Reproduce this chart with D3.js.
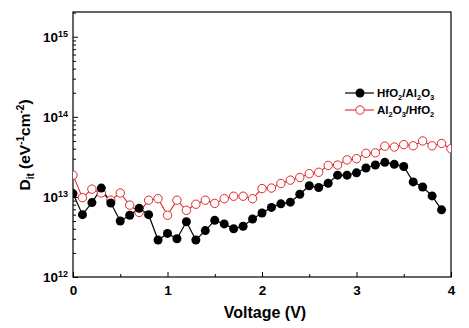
<!DOCTYPE html>
<html>
<head>
<meta charset="utf-8">
<script src="https://cdnjs.cloudflare.com/ajax/libs/d3/7.8.5/d3.min.js"></script>
<style>
  body { margin: 0; background: #fff; }
  text { font-family: "Liberation Sans", Arial, sans-serif; font-weight: bold; }
</style>
</head>
<body>
<div id="chart"></div>
<script>
// Data
var voltA = [0,0.1,0.2,0.3,0.4,0.5,0.6,0.7,0.8,0.9,1.0,1.1,1.2,1.3,1.4,1.5,1.6,1.7,1.8,1.9,
  2.0,2.1,2.2,2.3,2.4,2.5,2.6,2.7,2.8,2.9,3.0,3.1,3.2,3.3,3.4,3.5,3.6,3.7,3.8,3.9];
var ditHfAl = [1.10e13,6.0e12,8.5e12,1.29e13,8.4e12,5.0e12,5.9e12,7.2e12,6.0e12,2.9e12,
  3.5e12,3.0e12,4.9e12,2.9e12,3.8e12,5.1e12,4.6e12,4.0e12,4.3e12,5.3e12,
  6.3e12,7.4e12,8.2e12,8.6e12,1.08e13,1.38e13,1.31e13,1.48e13,1.87e13,1.87e13,
  2.0e13,2.3e13,2.5e13,2.7e13,2.55e13,2.4e13,1.54e13,1.33e13,1.03e13,6.9e12];

var voltB = [0,0.1,0.2,0.3,0.4,0.5,0.6,0.7,0.8,0.9,1.0,1.1,1.2,1.3,1.4,1.5,1.6,1.7,1.8,1.9,
  2.0,2.1,2.2,2.3,2.4,2.5,2.6,2.7,2.8,2.9,3.0,3.1,3.2,3.3,3.4,3.5,3.6,3.7,3.8,3.9,4.0];
var ditAlHf = [1.87e13,9.8e12,1.25e13,1.12e13,9.1e12,1.12e13,7.9e12,6.4e12,9.1e12,9.5e12,
  5.9e12,9.1e12,6.8e12,8.1e12,9.1e12,8.3e12,9.5e12,1.02e13,1.02e13,9.5e12,
  1.27e13,1.29e13,1.47e13,1.62e13,1.75e13,1.95e13,2.03e13,2.47e13,2.5e13,2.9e13,
  3.0e13,3.5e13,3.55e13,4.3e13,4.2e13,4.5e13,4.35e13,5.0e13,4.35e13,4.65e13,4.0e13];

var xTicks = [0,1,2,3,4];
var xMinor = [0.5,1.5,2.5,3.5];
var yExps = [12,13,14,15];

// Chart position
var svgWidth = 469, svgHeight = 328;
var margin = {top: 12, right: 18, bottom: 51, left: 73};
var width = 451 - margin.left;
var height = 277 - margin.top;

var svg = d3.select("#chart").append("svg")
  .attr("width", svgWidth)
  .attr("height", svgHeight);

var fig = svg.append("g")
  .attr("transform", `translate(${margin.left}, ${margin.top})`);

var x = d3.scaleLinear().domain([0, 4]).range([0, width]);
var y = d3.scaleLog().domain([1e12, Math.pow(10, 15.309)]).range([height, 0]);

// clip
svg.append("defs").append("clipPath").attr("id", "clip")
  .append("rect").attr("width", width).attr("height", height);

// x axis (ticks inside)
var xAxis = fig.append("g")
  .attr("transform", `translate(0, ${height})`)
  .call(d3.axisBottom(x).tickValues(xTicks).tickSize(-5).tickPadding(8).tickFormat(d3.format("d")));
xAxis.select(".domain").remove();
xAxis.selectAll("text").style("font-size", "13.5px").attr("fill", "#000");
var xAxisMinor = fig.append("g")
  .attr("transform", `translate(0, ${height})`)
  .call(d3.axisBottom(x).tickValues(xMinor).tickSize(-3).tickFormat(""));
xAxisMinor.select(".domain").remove();

// y axis (log, ticks inside)
var minorY = [];
yExps.slice(0, 3).forEach(function(e) {
  for (var m = 2; m <= 9; m++) minorY.push(m * Math.pow(10, e));
});
minorY.push(2e15);
var yAxis = fig.append("g")
  .call(d3.axisLeft(y).tickValues(yExps.map(e => Math.pow(10, e))).tickSize(-5).tickFormat(""));
yAxis.select(".domain").remove();
var yAxisMinor = fig.append("g")
  .call(d3.axisLeft(y).tickValues(minorY).tickSize(-3).tickFormat(""));
yAxisMinor.select(".domain").remove();
fig.selectAll(".tick line").attr("stroke", "#000").attr("stroke-width", 1);

var yLab = fig.append("g").selectAll("text")
  .data(yExps).enter().append("text")
  .attr("x", -5)
  .attr("y", e => y(Math.pow(10, e)) + 5)
  .attr("text-anchor", "end")
  .style("font-size", "13.5px");
yLab.append("tspan").text("10");
yLab.append("tspan").attr("dy", -5).style("font-size", "9px").text(e => e);

// frame
fig.append("rect")
  .attr("width", width).attr("height", height)
  .attr("fill", "none").attr("stroke", "#000").attr("stroke-width", 1.2);

// series
var plot = fig.append("g").attr("clip-path", "url(#clip)");
var red = "#e0282b";

var lineB = d3.line().x((d, i) => x(voltB[i])).y(d => y(d));
plot.append("path").datum(ditAlHf)
  .attr("d", lineB).attr("fill", "none").attr("stroke", red).attr("stroke-width", 1.1);

var lineA = d3.line().x((d, i) => x(voltA[i])).y(d => y(d));
plot.append("path").datum(ditHfAl)
  .attr("d", lineA).attr("fill", "none").attr("stroke", "#000").attr("stroke-width", 1.2);

plot.selectAll(".ptB").data(ditAlHf).enter().append("circle")
  .attr("cx", (d, i) => x(voltB[i])).attr("cy", d => y(d)).attr("r", 4.2)
  .attr("fill", "#fff").attr("stroke", red).attr("stroke-width", 1);

plot.selectAll(".ptA").data(ditHfAl).enter().append("circle")
  .attr("cx", (d, i) => x(voltA[i])).attr("cy", d => y(d)).attr("r", 4.5)
  .attr("fill", "#000");

// legend
var leg = svg.append("g");
leg.append("line").attr("x1", 345).attr("x2", 374).attr("y1", 93).attr("y2", 93)
  .attr("stroke", "#000").attr("stroke-width", 1.2);
leg.append("circle").attr("cx", 360).attr("cy", 93).attr("r", 4.5).attr("fill", "#000");
leg.append("line").attr("x1", 345).attr("x2", 374).attr("y1", 110).attr("y2", 110)
  .attr("stroke", red).attr("stroke-width", 1.1);
leg.append("circle").attr("cx", 360).attr("cy", 110).attr("r", 4.2)
  .attr("fill", "#fff").attr("stroke", red);

leg.append("text").attr("x", 377).attr("y", 97).style("font-size", "11.5px")
  .call(function(t) {
    t.append("tspan").text("HfO");
    t.append("tspan").attr("dy", 3).style("font-size", "7.5px").text("2");
    t.append("tspan").attr("dy", -3).text("/Al");
    t.append("tspan").attr("dy", 3).style("font-size", "7.5px").text("2");
    t.append("tspan").attr("dy", -3).text("O");
    t.append("tspan").attr("dy", 3).style("font-size", "7.5px").text("3");
  });
leg.append("text").attr("x", 377).attr("y", 114).style("font-size", "11.5px")
  .call(function(t) {
    t.append("tspan").text("Al");
    t.append("tspan").attr("dy", 3).style("font-size", "7.5px").text("2");
    t.append("tspan").attr("dy", -3).text("O");
    t.append("tspan").attr("dy", 3).style("font-size", "7.5px").text("3");
    t.append("tspan").attr("dy", -3).text("/HfO");
    t.append("tspan").attr("dy", 3).style("font-size", "7.5px").text("2");
  });

// axis titles
svg.append("text")
  .attr("x", 265).attr("y", 318)
  .attr("text-anchor", "middle")
  .style("font-size", "16px")
  .text("Voltage (V)");

svg.append("text")
  .attr("transform", "rotate(-90)")
  .attr("x", -145).attr("y", 30)
  .attr("text-anchor", "middle")
  .style("font-size", "15.5px")
  .call(function(t) {
    t.append("tspan").text("D");
    t.append("tspan").attr("dy", 4).style("font-size", "10px").text("it");
    t.append("tspan").attr("dy", -4).text(" (eV");
    t.append("tspan").attr("dy", -6).style("font-size", "10px").text("-1");
    t.append("tspan").attr("dy", 6).text("cm");
    t.append("tspan").attr("dy", -6).style("font-size", "10px").text("-2");
    t.append("tspan").attr("dy", 6).text(")");
  });
</script>
</body>
</html>
